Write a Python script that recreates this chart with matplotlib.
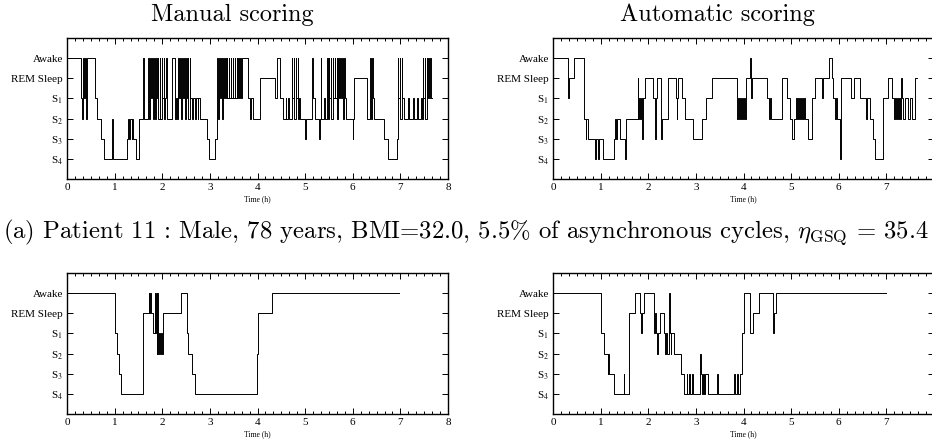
import matplotlib
matplotlib.use("Agg")
import matplotlib.pyplot as plt
from matplotlib.ticker import MultipleLocator

plt.rcParams['mathtext.fontset'] = 'stix'
plt.rcParams['font.family'] = ['Liberation Serif', 'DejaVu Serif']

#%%
### Stage levels and tick labels ###
stage_codes = ["4", "3", "2", "1", "R", "W"]
stage_labels = ["S$_4$", "S$_3$", "S$_2$", "S$_1$", "REM Sleep", "Awake"]

### Patient 11, manual scoring (start time of each run, stage) ###
man_a_t = [0.00, 0.29, 0.31, 0.33, 0.35, 0.37, 0.39, 0.41,
           0.59, 0.64, 0.71, 0.77, 0.94, 0.96, 1.26, 1.29, 1.31, 1.32, 1.36, 1.37, 1.38, 1.45, 1.52,
           1.60, 1.61, 1.71, 1.72, 1.75, 1.76, 1.79, 1.80, 1.83, 1.84, 1.87, 1.88, 1.91, 1.92, 1.95,
           1.96, 1.99, 2.00, 2.03, 2.04, 2.06, 2.08, 2.09, 2.20, 2.27, 2.29, 2.31,
           2.34, 2.35, 2.38, 2.39, 2.42, 2.43, 2.46, 2.47, 2.50, 2.51, 2.54, 2.55, 2.58, 2.59, 2.63,
           2.64, 2.69, 2.70, 2.75, 2.76, 2.80, 2.94, 2.99, 3.11, 3.14,
           3.16, 3.17, 3.20, 3.21, 3.24, 3.25, 3.28, 3.29, 3.32, 3.33, 3.36, 3.37, 3.40, 3.41, 3.44,
           3.45, 3.48, 3.49, 3.52, 3.53, 3.56, 3.57, 3.60, 3.61, 3.64, 3.65, 3.68, 3.81,
           3.84, 3.86, 3.88, 3.90, 4.05, 4.36, 4.40, 4.48, 4.54, 4.59, 4.60, 4.65, 4.66,
           4.72, 4.73, 4.76, 4.77, 4.80, 4.81, 4.84, 4.85, 4.88,
           4.90, 5.00, 5.01, 5.14, 5.16, 5.20, 5.29, 5.31, 5.33, 5.34, 5.40, 5.42,
           5.46, 5.47, 5.50, 5.51, 5.54, 5.55, 5.58, 5.59, 5.62, 5.63, 5.66, 5.67, 5.70, 5.71, 5.74,
           5.75, 5.78, 5.79, 5.82, 5.83, 5.86, 6.00, 6.01, 6.03,
           6.29, 6.36, 6.38, 6.40, 6.43, 6.45, 6.66, 6.75, 6.92, 6.94, 6.95, 6.96, 6.99,
           7.00, 7.03, 7.04, 7.08, 7.17, 7.18, 7.27, 7.28, 7.35, 7.36, 7.43,
           7.45, 7.47, 7.48, 7.51, 7.52, 7.55, 7.56, 7.59, 7.60, 7.63, 7.64, 7.66]
man_a_s = ["W", "1", "2", "W", "1", "W", "2", "W",
           "1", "2", "3", "4", "2", "4", "3", "2", "3", "2", "3", "2", "3", "4", "2",
           "W", "2", "W", "2", "W", "1", "W", "2", "W", "2", "W", "1", "W", "2", "W",
           "2", "W", "1", "W", "2", "1", "W", "2", "W", "2", "1", "2",
           "W", "1", "W", "2", "W", "1", "W", "2", "W", "1", "W", "2", "W", "1", "2",
           "1", "2", "1", "2", "1", "2", "3", "4", "3", "2",
           "W", "2", "W", "1", "W", "2", "W", "1", "W", "1", "W", "1", "W", "1", "W",
           "1", "W", "1", "W", "1", "W", "1", "W", "1", "W", "1", "W", "1",
           "2", "1", "1", "2", "R", "1", "W", "1", "2", "1", "2", "1", "2",
           "W", "1", "W", "2", "W", "1", "W", "2", "1",
           "2", "3", "2", "W", "1", "2", "3", "2", "W", "2", "1", "2",
           "W", "2", "W", "1", "W", "2", "W", "1", "W", "1", "W", "2", "W", "1", "W",
           "1", "W", "2", "W", "1", "2", "3", "2", "R",
           "2", "W", "2", "W", "1", "2", "3", "4", "3", "1", "W", "1", "W",
           "2", "W", "1", "2", "1", "2", "1", "2", "1", "2", "1",
           "2", "W", "1", "W", "2", "W", "1", "W", "1", "W", "1", "1"]

### Patient 11, automatic scoring ###
auto_a_t = [0.00, 0.01, 0.32, 0.33, 0.45, 0.66, 0.69, 0.70, 0.73, 0.89, 0.91, 0.95, 0.96, 1.04, 1.29,
            1.31, 1.33, 1.34, 1.40, 1.52, 1.53, 1.78, 1.79, 1.80, 1.83, 1.84, 1.87, 1.88,
            1.94, 2.09, 2.15, 2.16, 2.19, 2.27, 2.28, 2.41, 2.58, 2.60, 2.61, 2.63, 2.71, 2.78, 2.93,
            3.13, 3.22, 3.33, 3.87, 3.88, 3.91, 3.92, 3.95, 3.96, 3.99, 4.00, 4.03, 4.05,
            4.14, 4.16, 4.18, 4.50, 4.53, 4.56, 4.57, 4.80, 4.92, 4.97, 5.02, 5.06,
            5.11, 5.12, 5.15, 5.16, 5.19, 5.20, 5.23, 5.24, 5.27, 5.29, 5.36, 5.43, 5.50, 5.64, 5.66, 5.80,
            5.85, 5.87, 5.92, 5.94, 5.97, 6.02, 6.03, 6.05, 6.25, 6.32, 6.44, 6.58, 6.60, 6.65,
            6.72, 6.77, 6.93, 7.03, 7.11, 7.17, 7.18, 7.21, 7.22, 7.25, 7.26, 7.29, 7.31, 7.32,
            7.34, 7.40, 7.45, 7.50, 7.54, 7.60, 7.64]
auto_a_s = ["R", "W", "1", "R", "W", "2", "3", "2", "3", "4", "3", "4", "3", "4", "3",
            "2", "3", "2", "3", "4", "2", "R", "2", "1", "2", "1", "3", "1",
            "R", "1", "3", "1", "R", "3", "2", "R", "1", "2", "1", "R", "1", "2", "3",
            "2", "1", "R", "2", "1", "2", "1", "2", "1", "2", "1", "2", "R",
            "W", "1", "R", "1", "2", "1", "2", "R", "1", "2", "3", "2",
            "1", "2", "1", "2", "1", "2", "1", "2", "1", "2", "3", "1", "R", "1", "R", "W",
            "R", "1", "2", "1", "2", "2", "4", "R", "1", "R", "1", "2", "1", "2",
            "3", "4", "1", "R", "1", "2", "1", "2", "1", "2", "1", "2", "R", "1",
            "2", "1", "2", "1", "2", "R", "R"]

### Second patient, manual scoring ###
man_b_t = [0.00, 1.00, 1.04, 1.10, 1.14, 1.59, 1.72, 1.73, 1.75, 1.76, 1.80, 1.84, 1.85,
           1.87, 1.88, 1.90, 1.91, 1.94, 1.96, 1.98, 1.99, 2.02, 2.40, 2.52, 2.55,
           2.63, 2.68, 3.98, 4.00, 4.30, 6.98]
man_b_s = ["W", "1", "2", "3", "4", "R", "W", "R", "W", "R", "1", "W", "1",
           "W", "2", "W", "2", "1", "2", "1", "2", "R", "W", "1", "2",
           "3", "4", "2", "R", "W", "W"]

### Second patient, automatic scoring ###
auto_b_t = [0.00, 1.00, 1.07, 1.15, 1.16, 1.17, 1.28, 1.49, 1.50, 1.60, 1.72, 1.83, 1.85, 1.87, 1.91,
            2.13, 2.14, 2.16, 2.18, 2.20, 2.24, 2.33, 2.35, 2.37, 2.39, 2.43, 2.45, 2.47, 2.48,
            2.55, 2.69, 2.76, 2.81, 2.82, 2.86, 2.87, 2.92, 2.93, 3.09, 3.11, 3.13, 3.14, 3.18, 3.19,
            3.26, 3.45, 3.47, 3.80, 3.82, 3.87, 3.89, 3.93, 3.96, 4.02, 4.13, 4.20, 4.33, 4.62, 4.64,
            4.68, 7.00]
auto_b_s = ["W", "1", "2", "3", "2", "3", "4", "3", "4", "R", "W", "R", "1", "R", "W",
            "1", "R", "1", "2", "1", "R", "1", "2", "1", "2", "W", "1", "2", "1",
            "2", "3", "4", "3", "4", "3", "4", "3", "4", "2", "3", "4", "3", "4", "3",
            "4", "3", "4", "3", "4", "3", "4", "3", "1", "W", "1", "R", "W", "1", "R",
            "W", "W"]

titles = ["Manual scoring", "Automatic scoring"]
caption = r"(a) Patient 11 : Male, 78 years, BMI=32.0, 5.5% of asynchronous cycles, $\eta_{\rm GSQ}$ = 35.4"

#%%
### Build the figure ###
W, H = 932, 445
fig = plt.figure(figsize=(W / 100, H / 100), dpi=100)


def hypnogram(left, top, times, stages, last_label=True):
    ax = fig.add_axes([left / W, 1 - (top + 141) / H, 381 / W, 141 / H])
    levels = [stage_codes.index(s) for s in stages]
    ax.plot(times, levels, drawstyle="steps-post", color="black", lw=0.7)
    ax.set_xlim(0, 8)
    ax.set_ylim(-1, 6)
    ax.xaxis.set_minor_locator(MultipleLocator(1 / 6))
    ax.set_xticks(range(9))
    ax.set_xticklabels([str(i) if (i < 8 or last_label) else "" for i in range(9)])
    ax.set_yticks(range(6))
    ax.set_yticklabels(stage_labels)
    ax.tick_params(which="both", direction="in", top=True, right=True, labelsize=8, pad=3)
    ax.tick_params(which="major", length=4, width=0.7)
    ax.tick_params(which="minor", length=2.2, width=0.7)
    for sp in ax.spines.values():
        sp.set_linewidth(1.0)
    ax.set_xlabel("Time (h)", fontsize=5.5, labelpad=2)
    return ax


hypnogram(67, 38, man_a_t, man_a_s)
hypnogram(553, 38, auto_a_t, auto_a_s, last_label=False)
hypnogram(67, 273, man_b_t, man_b_s)
hypnogram(553, 273, auto_b_t, auto_b_s, last_label=False)

fig.text(232 / W, 1 - 15 / H, titles[0], family="cmr10", fontsize=17.5, ha="center", va="center")
fig.text(717 / W, 1 - 15 / H, titles[1], family="cmr10", fontsize=17.5, ha="center", va="center")
fig.text(466 / W, 1 - 232 / H, caption, family="cmr10", math_fontfamily="cm",
         fontsize=17.8, ha="center", va="center")

fig.savefig("out.png", dpi=100)
